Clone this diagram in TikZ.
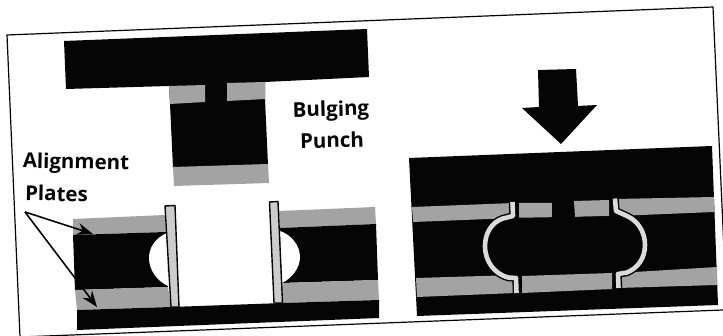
\documentclass[tikz,border=0pt]{standalone}
\usepackage{fontspec}
\setmainfont{Open Sans}[BoldFont={Open Sans Bold}]
\usetikzlibrary{arrows.meta}
\definecolor{ink}{gray}{0.02}
\definecolor{dith}{gray}{0.64}
\definecolor{pinfill}{gray}{0.80}
\definecolor{tubefill}{gray}{0.86}
\tikzset{
 solid part/.style={fill=ink,draw=none},
 plate part/.style={fill=dith,draw=none},
 void part/.style={fill=white,draw=none},
 pin part/.style={fill=pinfill,draw=ink,line width=1.4pt},
 frame line/.style={draw=ink,line width=1.2pt},
 caption/.style={font=\bfseries\fontsize{20.5}{20.5}\selectfont,text=ink,inner sep=0pt,anchor=center},
 leader/.style={draw=ink,line width=1.6pt,-{Stealth[length=16pt,width=12pt]}},
 tube under/.style={draw=ink,line width=7.5pt,line join=round},
 tube over/.style={draw=tubefill,line width=4.6pt,line join=round},
}
\begin{document}
\begin{tikzpicture}[x=1pt,y=-1pt]
\useasboundingbox (0,0) rectangle (723,336);
\begin{scope}
\clip (0,0) rectangle (723,336);
\fill[white] (0,0) rectangle (723,336);
\draw[frame line] (20,337) -- (7,35) -- (713,7) -- (724,250);
\draw[frame line] (20,337) -- (723,310);
% punch
\path[solid part] (64,41) -- (367,29) -- (369,77) -- (265,82) -- (265,99) -- (268,165) -- (173,168) -- (170,104) -- (169,86) -- (66,89) -- cycle;
\path[plate part] (169,86) -- (205,85) -- (205,102) -- (170,104) -- cycle;
\path[plate part] (227,83) -- (265,82) -- (265,99) -- (227,101) -- cycle;
\path[plate part] (173,167) -- (268,164) -- (269,183) -- (174,186) -- cycle;
% left die
\path[plate part] (73,219) -- (165,215) -- (166,232) -- (73,235) -- cycle;
\path[solid part] (73,235) -- (166,232) -- (168,287) -- (75,290) -- cycle;
\path[plate part] (75,290) -- (168,287) -- (171,307) -- (77,310) -- cycle;
\path[plate part] (279,211) -- (375,207) -- (376,224) -- (280,228) -- cycle;
\path[solid part] (280,228) -- (376,224) -- (378,280) -- (282,283) -- cycle;
\path[plate part] (282,283) -- (378,280) -- (379,300) -- (283,303) -- cycle;
\path[solid part] (77,310) -- (171,307) -- (283,303) -- (379,300) -- (379,318) -- (77,330) -- cycle;
\path[void part] (167,233) .. controls (155,238) and (149,248) .. (149,258) .. controls (149,270) and (157,281) .. (168,286) -- cycle;
\path[void part] (280,231) .. controls (292,235) and (300,246) .. (300,257) .. controls (300,268) and (292,278) .. (282,283) -- cycle;
\path[pin part] (165,206) -- (175,205.5) -- (179,307) -- (171,307) -- cycle;
\path[pin part] (269.5,202) -- (278,201.5) -- (282.5,303) -- (274,303) -- cycle;
% right die
\path[solid part] (409,158) -- (712,146) -- (718,305) -- (417,316) -- cycle;
\path[plate part] (412,207) -- (514,203) -- (514,218) -- (413,222) -- cycle;
\path[plate part] (519,203) -- (552,203) -- (552,218) -- (519,219) -- cycle;
\path[plate part] (574,201) -- (609,200) -- (609,216) -- (575,217) -- cycle;
\path[plate part] (615,199) -- (714,197) -- (714,212) -- (617,216) -- cycle;
\path[plate part] (416,278) -- (516,275) -- (516,293) -- (417,297) -- cycle;
\path[plate part] (618,273) -- (717,267) -- (717,285) -- (618,288) -- cycle;
\path[solid part] (503,218) .. controls (492,222) and (485,233) .. (485,246) .. controls (485,262) and (495,274) .. (508,278) -- (627,273) .. controls (638,268) and (645,258) .. (645,245) .. controls (645,232) and (638,221) .. (627,216) -- cycle;
\path[solid part] (552,203) rectangle (574,218);
\path[plate part] (522,276) -- (612,273) -- (612,289) -- (522,293) -- cycle;
\path[tube under] (512.5,202) -- (513,216) -- (503,218.5) .. controls (492,222) and (485,233) .. (485,246) .. controls (485,262) and (495,274) .. (508,277.5) -- (516,278) -- (516.5,293);
\path[tube under] (615,198.5) -- (616,211) -- (627,216) .. controls (638,221) and (645,232) .. (645,245) .. controls (645,258) and (638,268) .. (627,272.5) -- (618,274) -- (618.5,288);
\path[tube over] (512.5,202) -- (513,216) -- (503,218.5) .. controls (492,222) and (485,233) .. (485,246) .. controls (485,262) and (495,274) .. (508,277.5) -- (516,278) -- (516.5,293);
\path[tube over] (615,198.5) -- (616,211) -- (627,216) .. controls (638,221) and (645,232) .. (645,245) .. controls (645,258) and (638,268) .. (627,272.5) -- (618,274) -- (618.5,288);
% arrow
\path[solid part] (538,70) -- (576,69) -- (578,106) -- (597,105) -- (561,144) -- (522,108) -- (539,107) -- cycle;
\end{scope}
% labels
\node[caption,rotate=1.5] (bulging) at (331,111) {Bulging};
\node[caption,rotate=1.5] (punch) at (332,140) {Punch};
\node[caption,rotate=-1] (alignment) at (76,163.5) {Alignment};
\node[caption,rotate=-1] (plates) at (56.5,193.5) {Plates};
\coordinate (fork) at (25,212);
\coordinate (upperplate) at (93,234);
\coordinate (lowerplate) at (97,307);
\draw[leader] (fork) -- (upperplate);
\draw[leader] (fork) -- (lowerplate);
\end{tikzpicture}
\end{document}
